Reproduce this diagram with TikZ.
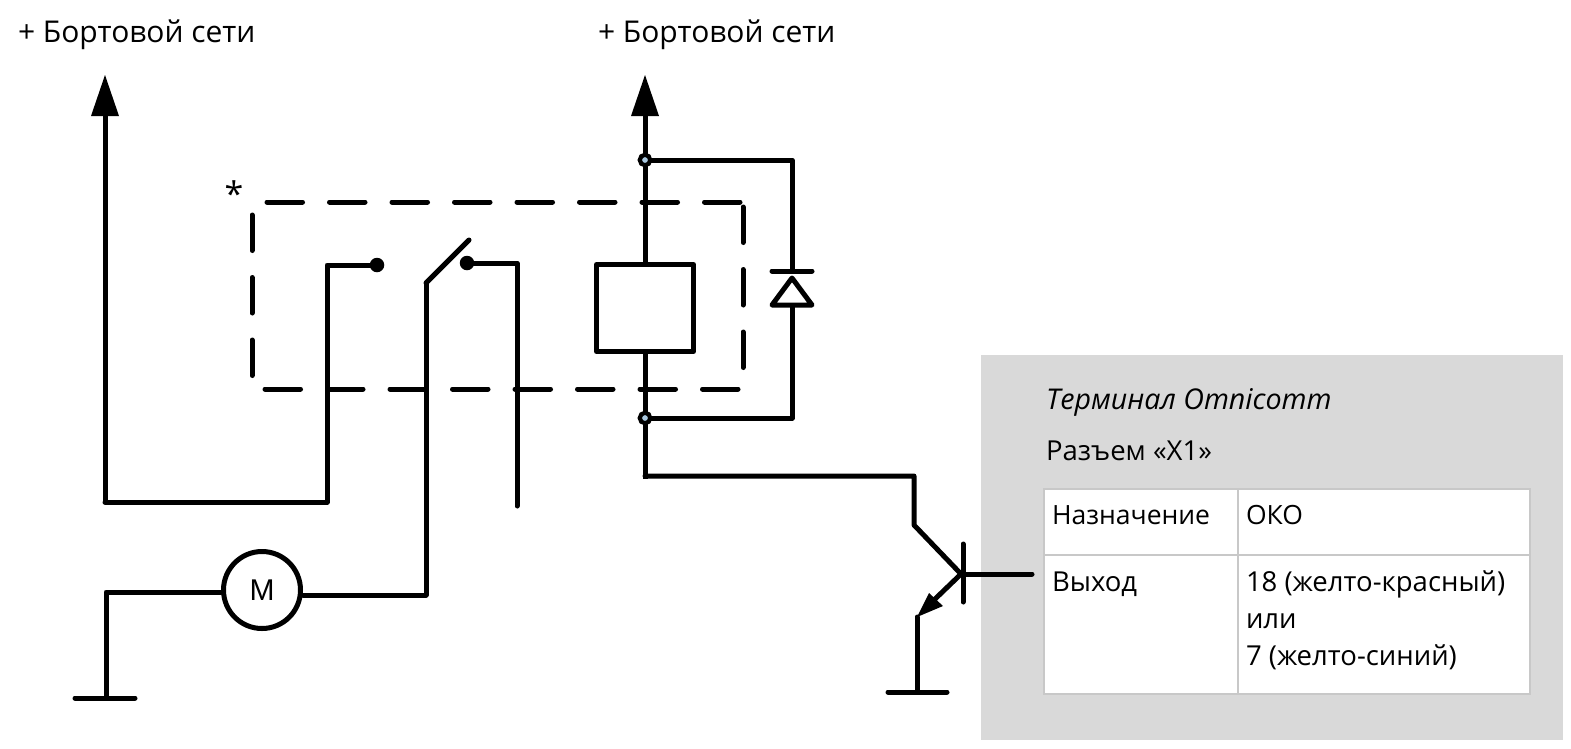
\documentclass[tikz,border=0pt]{standalone}
\usepackage{fontspec}
\setmainfont{Open Sans}
\newfontfamily\motorfont{Liberation Sans}
\usetikzlibrary{arrows.meta}
\definecolor{panel}{HTML}{D9D9D9}
\definecolor{tline}{HTML}{C8C8C8}
\definecolor{holefill}{HTML}{A9C8E0}
\tikzset{
  x=1pt,y=-1pt,
  wire/.style={line width=5pt,line join=round,line cap=round},
  thinwire/.style={line width=5pt,line join=round,line cap=round},
  dashbox/.style={line width=5pt,line cap=round,dash pattern=on 35.5pt off 27pt},
  label/.style={anchor=base west,inner sep=0pt,outer sep=0pt,font=\fontsize{30}{32}\selectfont,text=black},
  cell/.style={anchor=base west,inner sep=0pt,outer sep=0pt,font=\fontsize{27.5}{37}\selectfont,text=black,align=left},
  junction/.style={circle,draw=black,fill=holefill,line width=4.2pt,minimum size=10.5pt,inner sep=0pt},
  contact/.style={circle,fill=black,minimum size=14.5pt,inner sep=0pt},
}
\begin{document}
\begin{tikzpicture}
\useasboundingbox (0,0) rectangle (1571,748);
% panel
\fill[panel] (981,355) rectangle (1563,740);
\fill[white] (1044,489) rectangle (1530,694);
\draw[tline,line width=1.2pt] (1044,489) rectangle (1530,694)
  (1044,555) -- (1530,555) (1238,489) -- (1238,694);
\node[label,font=\fontsize{28.6}{32}\selectfont\itshape] (term) at (1046,409) {Терминал Omnicomm};
\node[label,font=\fontsize{27.5}{32}\selectfont] (conn) at (1046,460) {Разъем «Х1»};
\node[cell,font=\fontsize{26.5}{32}\selectfont] (c1) at (1052,524) {Назначение};
\node[cell,font=\fontsize{26.5}{32}\selectfont] (c2) at (1246,524) {ОКО};
\node[cell] (c3) at (1052,591) {Выход};
\node[cell,anchor=base west] (c4) at (1246,591) {18 (желто-красный)};
\node[cell] (c5) at (1246,628) {или};
\node[cell] (c6) at (1246,665) {7 (желто-синий)};
% top labels
\node[label] (plusA) at (18,42) {+ Бортовой сети};
\node[label] (plusB) at (598,42) {+ Бортовой сети};
\node[anchor=base,inner sep=0pt,font=\fontsize{34}{34}\selectfont] (star) at (234,206) {*};
% coordinates
\coordinate (feedA) at (105,75);
\coordinate (feedAc) at (105,502);
\coordinate (contAc) at (327,502);
\coordinate (contAt) at (327,265);
\coordinate (feedB) at (645,75);
\coordinate (busend) at (645,479);
\coordinate (busj) at (645,476);
\coordinate (c1p) at (914,476);
\coordinate (c2p) at (914,525);
\coordinate (bjt) at (961,574);
\coordinate (bartop) at (963,544);
\coordinate (barbot) at (963,602);
\coordinate (basein) at (1032,574);
\coordinate (em) at (917,617);
\coordinate (emg) at (917,692);
\coordinate (gndBl) at (888,692);
\coordinate (gndBr) at (947,692);
\coordinate (mL) at (106,592);
\coordinate (gndAt) at (106,698);
\coordinate (gndAl) at (75,698);
\coordinate (gndAr) at (135,698);
\coordinate (mR) at (426,595);
\coordinate (bladeb) at (426,283);
\coordinate (bladet) at (469,240);
\coordinate (nr) at (517,263);
\coordinate (nrb) at (517,506);
\coordinate (dtop) at (792,160);
\coordinate (dbot) at (792,418);
% dashed relay outline
\draw[dashbox] (267,202) -- (741,202);
\draw[dashbox] (252,215) -- (252,378);
\draw[dashbox] (265,389) -- (739,389);
\draw[dashbox] (743,207) -- (743,370);
% left feed
\draw[wire] (feedAc) -- (contAc) -- (contAt) -- (377,265);
\draw[wire,line cap=butt] (105,502) -- (105,110);
\fill (feedA) -- (119,116) -- (91,116) -- cycle;
\node[contact] (ca) at (377,265) {};
\node[contact] (cb) at (467,263) {};
\draw[thinwire] (cb.center) -- (nr) -- (nrb);
\draw[wire] (mR) -- (bladeb);
\draw[thinwire] (bladeb) -- (bladet);
% motor
\node[circle,draw=black,fill=white,line width=5pt,minimum size=77pt,inner sep=0pt,font=\motorfont\fontsize{30}{30}\selectfont] (motor) at (262,590) {M};
\draw[wire] (motor.west |- mL) -- (mL) -- (gndAt);
\draw[wire] (gndAl) -- (gndAr);
\draw[wire] (motor.east |- mR) -- (mR);
% relay coil and bus
\draw[wire,line cap=butt] (645,110) -- (busend);
\fill (feedB) -- (659,116) -- (631,116) -- cycle;
\node[draw=black,fill=white,line width=5pt,line join=round,minimum width=97pt,minimum height=87pt,inner sep=0pt] (coil) at (645,308) {};
% diode branch
\draw[thinwire] (645,160) -- (dtop) -- (792,271);
\draw[thinwire] (792,306) -- (dbot) -- (645,418);
\draw[wire] (772,271) -- (812,271);
\draw[wire,line join=round] (792,278) -- (812,305) -- (772,305) -- cycle;
\node[junction] (j1) at (645,160) {};
\node[junction] (j2) at (645,418) {};
% transistor
\draw[wire] (busj) -- (c1p) -- (c2p) -- (bjt);
\draw[wire] (bartop) -- (barbot);
\draw[wire] (bjt) -- (basein);
\draw[wire,line cap=butt] (bjt) -- (934,600);
\fill (em) -- (929,593) -- (943,606) -- cycle;
\draw[wire] (em) -- (emg);
\draw[wire] (gndBl) -- (gndBr);
\end{tikzpicture}
\end{document}
